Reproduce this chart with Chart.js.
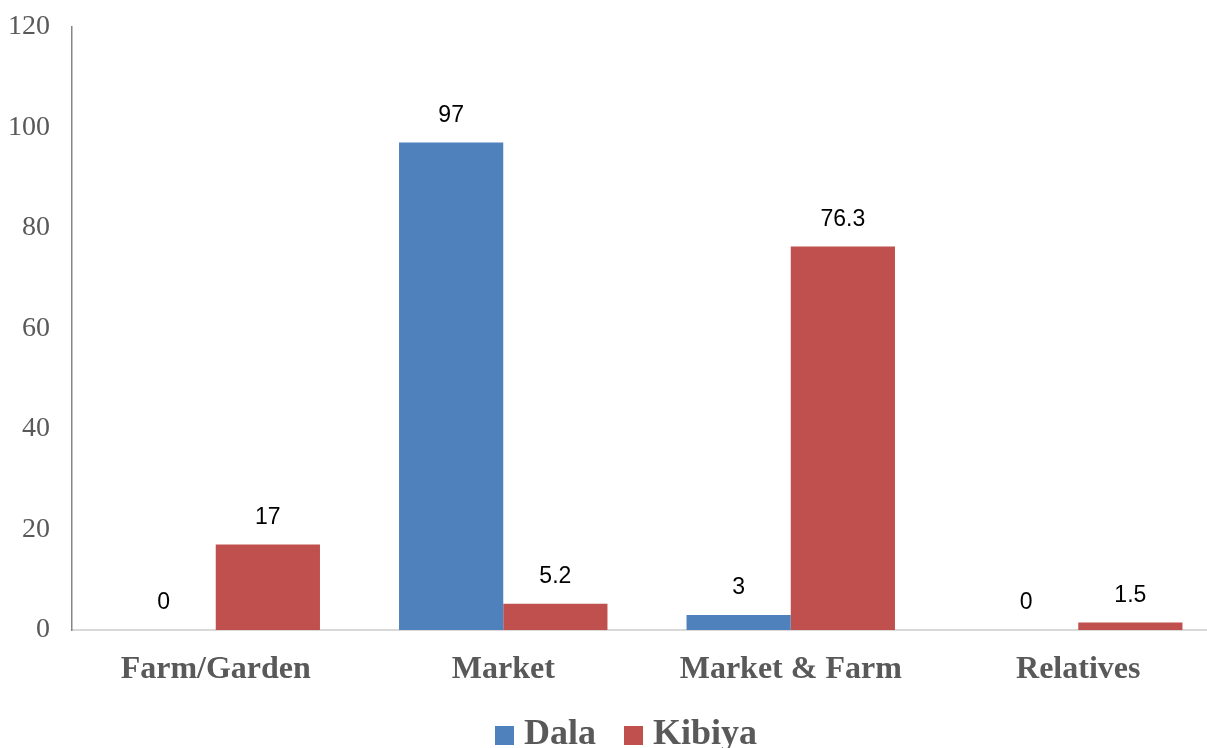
<!DOCTYPE html>
<html>
<head>
<meta charset="utf-8">
<script src="https://cdn.jsdelivr.net/npm/chart.js@4"></script>
<style>
  html, body { margin: 0; padding: 0; background: #fff; overflow: hidden; }
  #wrap { position: relative; width: 1222px; height: 763px; }
</style>
</head>
<body>
<div id="wrap"><canvas id="c"></canvas></div>
<script>
const categories = ["Farm/Garden", "Market", "Market & Farm", "Relatives"];
const dalaValues = [0, 97, 3, 0];
const kibiyaValues = [17, 5.2, 76.3, 1.5];
const seriesNames = ["Dala", "Kibiya"];
const seriesColors = ["#4F81BD", "#C0504D"];

function makeSwatch(color) {
  const c = document.createElement('canvas');
  c.width = 19; c.height = 19;
  const g = c.getContext('2d');
  g.fillStyle = color;
  g.fillRect(0, 0, 19, 19);
  return c;
}
const swatches = seriesColors.map(makeSwatch);

const valueLabels = {
  id: 'valueLabels',
  afterDatasetsDraw(chart) {
    const ctx = chart.ctx;
    ctx.save();
    ctx.font = '23px "Liberation Sans", Arial, sans-serif';
    ctx.fillStyle = '#000';
    ctx.textAlign = 'center';
    ctx.textBaseline = 'middle';
    chart.data.datasets.forEach((ds, i) => {
      const meta = chart.getDatasetMeta(i);
      meta.data.forEach((el, j) => {
        ctx.fillText(String(ds.data[j]), el.x, el.y - 27);
      });
    });
    ctx.restore();
  }
};

// nudge the legend to the right to match the reference's placement
const legendShift = {
  id: 'legendShift',
  beforeDraw(chart) {
    const lg = chart.legend;
    if (lg && !lg._shifted) {
      const orig = lg.draw.bind(lg);
      lg.draw = function () {
        const c = chart.ctx;
        c.save();
        c.translate(26.5, 0);
        orig();
        c.restore();
      };
      lg._shifted = true;
    }
  }
};

new Chart(document.getElementById('c'), {
  type: 'bar',
  data: {
    labels: categories,
    datasets: [
      { label: seriesNames[0], data: dalaValues, backgroundColor: seriesColors[0], categoryPercentage: 0.725, barPercentage: 1.0 },
      { label: seriesNames[1], data: kibiyaValues, backgroundColor: seriesColors[1], categoryPercentage: 0.725, barPercentage: 1.0 }
    ]
  },
  options: {
    responsive: true,
    maintainAspectRatio: false,
    animation: false,
    layout: { padding: { top: 0, left: -14, right: 0, bottom: 0 } },
    plugins: {
      legend: {
        position: 'bottom',
        labels: {
          usePointStyle: true,
          pointStyleWidth: 2,
          padding: 37,
          color: '#595959',
          font: { family: '"Liberation Serif", "Times New Roman", serif', size: 36, weight: 'bold' },
          generateLabels(chart) {
            const items = Chart.defaults.plugins.legend.labels.generateLabels(chart);
            items.forEach((it, i) => { it.pointStyle = swatches[i]; });
            return items;
          }
        }
      },
      tooltip: { enabled: false }
    },
    scales: {
      x: {
        grid: { display: false, drawTicks: false },
        border: { display: true, color: '#d9d9d9', width: 2 },
        ticks: {
          color: '#595959',
          padding: 21,
          font: { family: '"Liberation Serif", "Times New Roman", serif', size: 32, weight: 'bold' }
        },
        afterFit(scale) { scale.height = 50; }
      },
      y: {
        min: 0,
        max: 120,
        grid: { display: false, drawTicks: false },
        border: { display: true, color: '#868686', width: 1.5 },
        ticks: {
          stepSize: 20,
          color: '#595959',
          padding: 22,
          font: { family: '"Liberation Serif", "Times New Roman", serif', size: 28 }
        },
        afterFit(scale) { scale.paddingTop = 27; }
      }
    }
  },
  plugins: [valueLabels, legendShift]
});
</script>
</body>
</html>
